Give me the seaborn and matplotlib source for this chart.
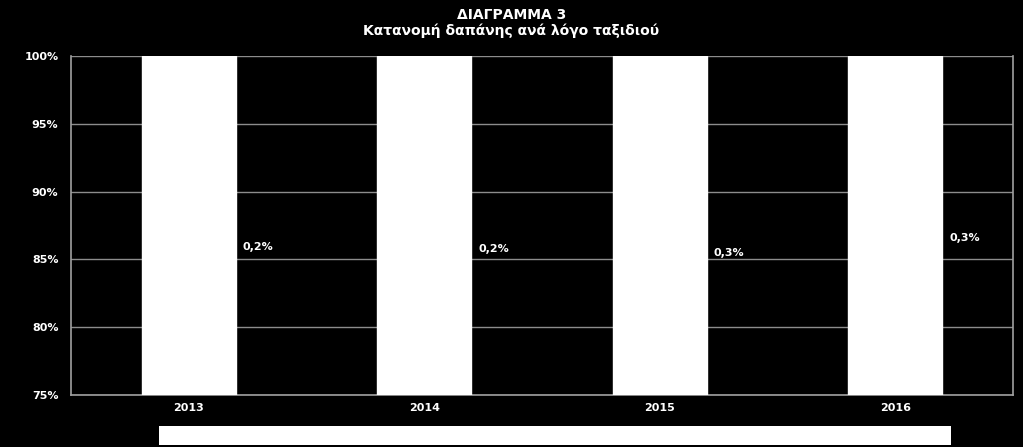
import seaborn as sns
import pandas as pd
import matplotlib.pyplot as plt
from matplotlib.patches import Rectangle

# data
years = ['2013', '2014', '2015', '2016']
share = [100, 100, 100, 100]
small_share = ['0,2%', '0,2%', '0,3%', '0,3%']
label_y = [85.9, 85.8, 85.5, 86.6]

df = pd.DataFrame({'year': years, 'share': share})

sns.set_style('dark')
plt.rcParams['font.family'] = ['DejaVu Sans']

fig = plt.figure(figsize=(10.23, 4.47), dpi=100, facecolor='black')
ax = fig.add_axes([71 / 1023, 1 - 395 / 447, 942 / 1023, 339 / 447])
ax.set_facecolor('black')

sns.barplot(data=df, x='year', y='share', color='white', width=0.4,
            saturation=1, ax=ax, zorder=3)

ax.set_ylim(75, 100)
ax.set_xlim(-0.5, 3.5)
ax.set_yticks([75, 80, 85, 90, 95, 100])
ax.set_yticklabels([f'{v}%' for v in [75, 80, 85, 90, 95, 100]],
                   color='white', fontsize=8, fontweight='bold')
ax.set_xticks(range(4))
ax.set_xticklabels(years, color='white', fontsize=8, fontweight='bold')
ax.tick_params(axis='x', length=0, pad=6)
ax.tick_params(axis='y', length=4, color='#a0a0a0', pad=5)
# minor ticks at category boundaries
ax.set_xticks([0.5, 1.5, 2.5, 3.5], minor=True)
ax.tick_params(axis='x', which='minor', length=4, color='#a0a0a0')

ax.grid(axis='y', color='#8c8c8c', linewidth=1, zorder=1)
ax.grid(axis='x', visible=False)
ax.set_xlabel('')
ax.set_ylabel('')
for side in ['left', 'bottom', 'right']:
    ax.spines[side].set_visible(True)
    ax.spines[side].set_color('#a0a0a0')
    ax.spines[side].set_linewidth(1.2)
ax.spines['top'].set_visible(False)

for i, (lab, y) in enumerate(zip(small_share, label_y)):
    ax.text(i + 0.23, y, lab, color='white', fontsize=8, fontweight='bold',
            va='center', ha='left', zorder=4)

fig.text(0.5, 1 - 15 / 447, 'ΔΙΑΓΡΑΜΜΑ 3', color='white', fontsize=10,
         fontweight='bold', ha='center', va='center')
fig.text(0.5, 1 - 31 / 447, 'Κατανομή δαπάνης ανά λόγο ταξιδιού', color='white',
         fontsize=10, fontweight='bold', ha='center', va='center')

# empty legend box
fig.patches.append(Rectangle((159 / 1023, 1 - 445 / 447), 792 / 1023, 19 / 447,
                             transform=fig.transFigure, facecolor='white',
                             edgecolor='none'))

fig.savefig('out.png', dpi=100, facecolor='black')
